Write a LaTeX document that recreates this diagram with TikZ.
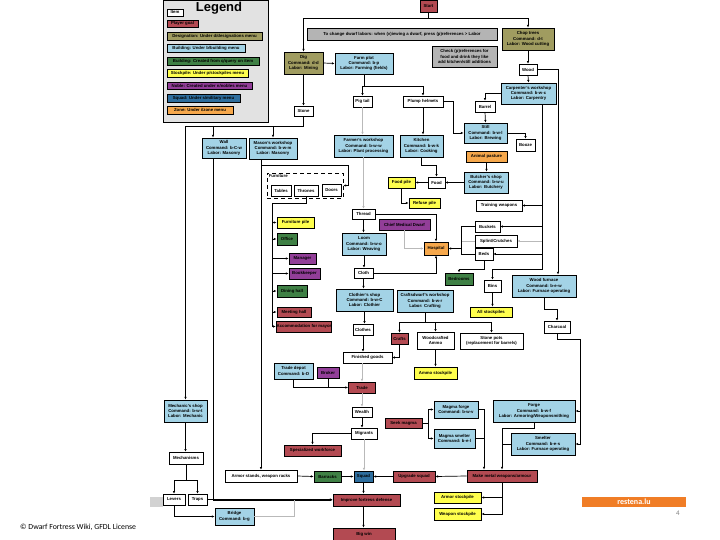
\documentclass[tikz,border=0pt]{standalone}
\usepackage{fontspec}
\setmainfont{Liberation Sans}
\newfontfamily\slidefont{Carlito}
\usetikzlibrary{arrows.meta}
\usetikzlibrary{positioning}

\definecolor{goalred}{HTML}{B34A52}
\definecolor{desigolive}{HTML}{A09C60}
\definecolor{bldgblue}{HTML}{A3D3E6}
\definecolor{roomgreen}{HTML}{3F8045}
\definecolor{pileyellow}{HTML}{FFFF4D}
\definecolor{noblepurple}{HTML}{923E98}
\definecolor{squadblue}{HTML}{2E6E9E}
\definecolor{zoneorange}{HTML}{F6A84C}
\definecolor{notegray}{HTML}{B4B4B4}
\definecolor{legendgray}{HTML}{E2E2E2}
\definecolor{restena}{HTML}{F07D26}

\newcommand{\boxfont}{\fontsize{4.3}{5.3}\selectfont\bfseries}

\tikzset{
  box/.style={draw=black, line width=0.6pt, align=center, inner sep=0.4pt, font=\boxfont},
  item/.style={box, fill=white},
  goal/.style={box, fill=goalred, line width=0.9pt},
  desig/.style={box, fill=desigolive, line width=0.9pt},
  bldg/.style={box, fill=bldgblue, line width=0.9pt},
  room/.style={box, fill=roomgreen, line width=0.9pt},
  pile/.style={box, fill=pileyellow, line width=0.9pt},
  noble/.style={box, fill=noblepurple, line width=0.9pt},
  squad/.style={box, fill=squadblue, line width=0.9pt},
  zone/.style={box, fill=zoneorange, line width=0.9pt},
  note/.style={box, fill=notegray, line width=0.9pt},
  arr/.style={-{Latex[length=2.6pt,width=2.4pt]}, line width=0.7pt},
  link/.style={line width=0.7pt},
  grayline/.style={line width=0.7pt, draw=gray!55},
}

\begin{document}
\begin{tikzpicture}[x=1pt,y=-1pt]
\useasboundingbox (0,0) rectangle (720,540);
\fill[white] (0,0) rectangle (720,540);

% slide frame
\fill[gray!35] (150,497) rectangle (163,507);
\fill[restena] (582,497) rectangle (686,507);
\node[font=\slidefont\bfseries\fontsize{8}{9}\selectfont, text=white] (restenalabel) at (634,502) {restena.lu};
\node[font=\slidefont\fontsize{7}{8}\selectfont, text=gray] (pagenum) at (678,513.5) {4};
\node[font=\slidefont\fontsize{7.8}{9}\selectfont, anchor=west, inner sep=0pt] (copyright) at (20,527) {\textcopyright{} Dwarf Fortress Wiki, GFDL License};

% legend
\draw[fill=legendgray, line width=0.6pt] (163,0) rectangle (268,122);
\node[font=\bfseries\fontsize{13}{14}\selectfont] (legendtitle) at (219,8) {Legend};
\node[item, minimum width=16, minimum height=7] (lgitem) at (175,12.5) {Item};
\node[goal, minimum width=31, minimum height=7] (lggoal) at (182.5,23.5) {Player goal};
\node[desig, minimum width=95, minimum height=8] (lgdesig) at (214.5,36) {Designation: Under d/designations menu};
\node[bldg, minimum width=78, minimum height=8] (lgbldg) at (206,48) {Building: Under b/building menu};
\node[room, minimum width=92, minimum height=8] (lgroom) at (213,61) {Building: Created from q/query on item};
\node[pile, minimum width=81, minimum height=8] (lgpile) at (207.5,73) {Stockpile: Under p/stockpiles menu};
\node[noble, minimum width=85, minimum height=7] (lgnoble) at (209.5,85.5) {Noble: Created under n/nobles menu};
\node[squad, minimum width=73, minimum height=8] (lgsquad) at (203.5,98) {Squad: Under s/military menu};
\node[zone, minimum width=66, minimum height=8] (lgzone) at (200,110) {Zone: Under i/zone menu};

% top row
\node[goal, minimum width=17, minimum height=12] (start) at (428.5,6) {Start};
\node[note, minimum width=190, minimum height=12] (labornote) at (402,34) {To change dwarf labors: when (v)iewing a dwarf, press (p)references > Labor};
\node[note, minimum width=65, minimum height=21] (prefnote) at (464.5,56.5) {Check (p)references for\\food and drink they like\\add kitchen/still additions};
\node[desig, minimum width=39, minimum height=22] (dig) at (303.5,63) {Dig\\Command: d-d\\Labor: Mining};
\node[bldg, minimum width=58, minimum height=21] (farm) at (364,63.5) {Farm plot\\Command: b-p\\Labor: Farming (fields)};
\node[desig, minimum width=52, minimum height=22] (chop) at (528,39) {Chop trees\\Command: d-t\\Labor: Wood cutting};
\node[item, minimum width=18, minimum height=11] (wood) at (528,69.5) {Wood};
\node[bldg, minimum width=55, minimum height=21] (carp) at (528.5,93.5) {Carpenter's workshop\\Command: b-w-c\\Labor: Carpentry};
\node[item, minimum width=20, minimum height=11] (barrel) at (485,106.5) {Barrel};
\node[bldg, minimum width=43, minimum height=20] (still) at (485.5,133) {Still\\Command: b-w-l\\Labor: Brewing};
\node[item, minimum width=19, minimum height=12] (booze) at (525.5,145) {Booze};
\node[item, minimum width=19, minimum height=10] (stone) at (303.5,111) {Stone};
\node[item, minimum width=19, minimum height=11] (pigtail) at (362.5,101.5) {Pig tail};
\node[item, minimum width=40, minimum height=11] (plump) at (423,101.5) {Plump helmets};

% food and cloth
\node[bldg, minimum width=59, minimum height=22] (farmer) at (363.5,146) {Farmer's workshop\\Command: b-w-w\\Labor: Plant processing};
\node[bldg, minimum width=43, minimum height=22] (kitchen) at (421.5,146) {Kitchen\\Command: b-w-k\\Labor: Cooking};
\node[zone, minimum width=41, minimum height=11] (pasture) at (486.5,156.5) {Animal pasture};
\node[bldg, minimum width=44, minimum height=21] (butcher) at (486,182.5) {Butcher's shop\\Command: b-w-u\\Labor: Butchery};
\node[item, minimum width=17, minimum height=11] (food) at (436.5,182.5) {Food};
\node[pile, minimum width=27, minimum height=11] (foodpile) at (401.5,182.5) {Food pile};
\node[pile, minimum width=31, minimum height=10] (refuse) at (424.5,203) {Refuse pile};
\node[item, minimum width=46, minimum height=11] (training) at (499,205.5) {Training weapons};
\node[item, minimum width=25, minimum height=11] (buckets) at (487.5,226.5) {Buckets};
\node[item, minimum width=42, minimum height=12] (splint) at (496,241) {Splint/Crutches};
\node[item, minimum width=18, minimum height=12] (beds) at (484,254) {Beds};
\node[item, minimum width=23, minimum height=10] (thread) at (363.5,214) {Thread};
\node[noble, minimum width=51, minimum height=11] (cmd) at (404.5,224.5) {Chief Medical Dwarf};
\node[zone, minimum width=24, minimum height=13] (hospital) at (436,248.5) {Hospital};
\node[bldg, minimum width=44, minimum height=22] (loom) at (364,244) {Loom\\Command: b-w-o\\Labor: Weaving};
\node[item, minimum width=19, minimum height=10] (cloth) at (363.5,273) {Cloth};
\node[bldg, minimum width=57, minimum height=22] (clothier) at (364.5,300) {Clothier's shop\\Command: b-w-C\\Labor: Clothier};
\node[item, minimum width=20, minimum height=11] (clothes) at (363,329.5) {Clothes};
\node[bldg, minimum width=56, minimum height=22] (craftsws) at (425,301) {Craftsdwarf's workshop\\Command: b-w-r\\Labor: Crafting};
\node[goal, minimum width=17, minimum height=11] (crafts) at (399.5,338.5) {Crafts};
\node[item, minimum width=37, minimum height=17] (ammo) at (435.5,340.5) {Woodcrafted\\Ammo};
\node[item, minimum width=63, minimum height=16] (pots) at (491.5,341) {Stone pots\\(replacement for barrels)};
\node[pile, minimum width=43, minimum height=12] (ammopile) at (435.5,373) {Ammo stockpile};
\node[room, minimum width=28, minimum height=12] (bedrooms) at (459,279) {Bedrooms};
\node[item, minimum width=17, minimum height=12] (bins) at (492.5,286) {Bins};
\node[pile, minimum width=42, minimum height=10] (allpiles) at (491,312) {All stockpiles};
\node[bldg, minimum width=64, minimum height=22] (furnace) at (544,286) {Wood furnace\\Command: b-e-w\\Labor: Furnace operating};
\node[item, minimum width=26, minimum height=12] (charcoal) at (557,327) {Charcoal};

% trade and military
\node[item, minimum width=49, minimum height=11] (finished) at (367.5,357.5) {Finished goods};
\node[goal, minimum width=27, minimum height=11] (trade) at (362,387.5) {Trade};
\node[bldg, minimum width=39, minimum height=16] (depot) at (293.5,371) {Trade depot\\Command: b-D};
\node[noble, minimum width=22, minimum height=11] (broker) at (328,372.5) {Broker};
\node[item, minimum width=20, minimum height=10] (wealth) at (362,412) {Wealth};
\node[item, minimum width=26, minimum height=11] (migrants) at (364,433.5) {Migrants};
\node[goal, minimum width=57, minimum height=11] (workforce) at (312.5,450.5) {Specialized workforce};
\node[squad, minimum width=19, minimum height=11] (squad) at (363.5,476.5) {Squad};
\node[room, minimum width=27, minimum height=11] (barracks) at (327.5,476.5) {Barracks};
\node[item, minimum width=72, minimum height=12] (racks) at (261,476) {Armor stands, weapon racks};
\node[goal, minimum width=42, minimum height=11] (upgrade) at (414,476.5) {Upgrade squad};
\node[goal, minimum width=70, minimum height=12] (makemetal) at (502,476) {Make metal weapons/armour};
\node[goal, minimum width=67, minimum height=12] (defense) at (366.5,500) {Improve fortress defense};
\node[goal, minimum width=62, minimum height=12] (bigwin) at (364,534) {Big win};
\node[goal, minimum width=37, minimum height=10] (magma) at (403.5,423) {Seek magma};
\node[bldg, minimum width=44, minimum height=17] (mforge) at (456,409.5) {Magma forge\\Command: b-w-v};
\node[bldg, minimum width=41, minimum height=19] (msmelt) at (454.5,438.5) {Magma smelter\\Command: b-e-l};
\node[bldg, minimum width=82, minimum height=22] (forge) at (534,411) {Forge\\Command: b-w-f\\Labor: Armoring/Weaponsmithing};
\node[bldg, minimum width=64, minimum height=22] (smelter) at (543,444) {Smelter\\Command: b-e-s\\Labor: Furnace operating};
\node[pile, minimum width=47, minimum height=11] (armorpile) at (457.5,497.5) {Armor stockpile};
\node[pile, minimum width=47, minimum height=12] (weaponpile) at (457.5,514) {Weapon stockpile};

% stone side
\node[bldg, minimum width=44, minimum height=20] (wall) at (224,148) {Wall\\Command: b-C-w\\Labor: Masonry};
\node[bldg, minimum width=48, minimum height=21] (mason) at (273,148.5) {Mason's workshop\\Command: b-w-m\\Labor: Masonry};
\node[draw, dashed, dash pattern=on 4pt off 3pt, line width=0.8pt, minimum width=76, minimum height=25, inner sep=0pt] (furn) at (305,185.5) {};
\node[font=\boxfont, anchor=north west, inner sep=0pt] (furnlabel) at ([xshift=2pt,yshift=-2pt]furn.north west) {Furniture};
\node[item, minimum width=20, minimum height=11] (tables) at (281,190.5) {Tables};
\node[item, minimum width=24, minimum height=11] (thrones) at (306,190.5) {Thrones};
\node[item, minimum width=19, minimum height=12] (doors) at (331.5,190) {Doors};
\node[pile, minimum width=37, minimum height=11] (furnpile) at (295.5,222.5) {Furniture pile};
\node[room, minimum width=20, minimum height=12] (office) at (287,239) {Office};
\node[noble, minimum width=27, minimum height=11] (manager) at (302.5,258.5) {Manager};
\node[noble, minimum width=31, minimum height=11] (bookkeeper) at (304.5,273.5) {Bookkeeper};
\node[room, minimum width=30, minimum height=12] (dining) at (292,291) {Dining hall};
\node[goal, minimum width=34, minimum height=10] (meeting) at (294,312) {Meeting hall};
\node[goal, minimum width=54, minimum height=11] (mayor) at (304,326.5) {Accommodation for mayor};
\node[bldg, minimum width=43, minimum height=22] (mechshop) at (185.5,411) {Mechanic's shop\\Command: b-w-t\\Labor: Mechanic};
\node[item, minimum width=34, minimum height=12] (mechanisms) at (186,458) {Mechanisms};
\node[item, minimum width=22, minimum height=11] (levers) at (174,499.5) {Levers};
\node[item, minimum width=19, minimum height=11] (traps) at (197.5,499.5) {Traps};
\node[bldg, minimum width=39, minimum height=17] (bridge) at (234.5,516.5) {Bridge\\Command: b-g};

% connectors: top
\draw[arr] (start.south) -- ++(0,6) -| (dig.north);
\draw[arr] (start.south) -- ++(0,6) -| (chop.north);
\draw[arr] (dig.east) -- (farm.west);
\draw[arr] (dig.south) -- (stone.north);
\draw[arr] (chop.south) -- (wood.north);
\draw[arr] (wood.south) -- (carp.north);
\draw[arr] (wood.east) -| ([xshift=14pt]furnace.north);
\draw[arr] (carp.west) -| (barrel.north);
\draw[arr] (barrel.south) -- (still.north);
\draw[arr] (still.east) -| (booze.north);
\draw[link] (farm.south) -- ++(0,12) coordinate (farmsplit);
\draw[arr] (farmsplit) -| (pigtail.north);
\draw[arr] (farmsplit) -| (plump.north);
\draw[grayline,arr] (pigtail.south) -- (pigtail.south |- farmer.north);
\draw[arr] (plump.south) -- (plump.south |- kitchen.north);
\draw[arr] (plump.east) -- ++(10,0) |- (still.west);

% connectors: food and cloth
\draw[arr] (kitchen.south) -- ++(0,8) -| (food.north);
\draw[arr] (pasture.south) -- (pasture.south |- butcher.north);
\draw[arr] (butcher.west) -- (food.east);
\draw[arr] (food.west) -- (foodpile.east);
\draw[arr] (foodpile.south) |- (refuse.west);
\draw[grayline,arr] (farmer.south) -- (farmer.south |- thread.north);
\draw[arr] (thread.east) -| (hospital.north);
\draw[arr] (thread.south) -- (thread.south |- loom.north);
\draw[grayline,arr] (cmd.south) |- (hospital.west);
\draw[arr] (loom.south) -- (loom.south |- cloth.north);
\draw[arr] (cloth.east) -| (hospital.south);
\draw[arr] (cloth.south) -- (cloth.south |- clothier.north);
\draw[arr] (clothier.south) -- (clothier.south |- clothes.north);
\draw[arr] (clothes.south) -- (clothes.south |- finished.north);
\draw[link] (craftsws.south) -- ++(0,10) coordinate (craftsplit);
\draw[arr] (craftsplit) -| (crafts.north);
\draw[arr] (craftsplit) -| (ammo.north);
\draw[arr] (craftsplit) -| (pots.north);
\draw[arr] (crafts.south) |- (finished.east);
\draw[arr] (ammo.south) -- (ammopile.north);
\coordinate (carpdown) at ([xshift=13.5pt]carp.south);
\draw[arr] (carpdown) -- ++(0,165) -| (bins.north);
\draw[arr] (carpdown |- training.east) -- (training.east);
\draw[arr] (carpdown |- buckets.east) -- (buckets.east);
\draw[grayline,arr] (carpdown |- splint.east) -- (splint.east);
\draw[arr] (carpdown |- beds.east) -- (beds.east);
\coordinate (hospdown) at ([xshift=-13pt]buckets.west);
\draw[link] (buckets.west) -- (hospdown) -- (hospdown |- beds.west) -- (beds.west);
\draw[grayline] (splint.west) -- (hospdown |- splint.west);
\draw[arr] (hospdown |- hospital.east) -- (hospital.east);
\draw[arr] (beds.south) -- ++(0,9) -| (bedrooms.north);
\draw[arr] (bins.south) -- (bins.south |- allpiles.north);
\draw[arr] (furnace.south) -- ++(0,12) -| (charcoal.north);
\draw[arr] (charcoal.south) -- ++(0,6) -| ([xshift=5pt]forge.east) -- (forge.east);
\draw[arr] ([xshift=5pt]forge.east) |- (smelter.east);

% connectors: trade and military
\draw[grayline,arr] (finished.south -| trade.north) -- (trade.north);
\draw[arr] (depot.south) |- (trade.west);
\draw[link] (broker.south) -- (broker.south |- trade.west);
\draw[grayline,arr] (trade.south) -- (trade.south |- wealth.north);
\draw[arr] (wealth.south) -- (wealth.south |- migrants.north);
\draw[arr] (migrants.west) -| (workforce.north);
\draw[grayline,arr] (migrants.south) -- (migrants.south |- squad.north);
\draw[arr] (barracks.east) -- (squad.west);
\draw[arr] (racks.east) -- (barracks.west);
\draw[arr] (upgrade.west) -- (squad.east);
\draw[arr] (makemetal.west) -- (upgrade.east);
\draw[arr] (squad.south) -- (squad.south |- defense.north);
\draw[arr] (squad.south |- defense.south) -- (squad.south |- bigwin.north);
\draw[link] (magma.east) -- ++(6,0) coordinate (magmasplit);
\draw[arr] (magmasplit) |- (mforge.west);
\draw[arr] (magmasplit) |- (msmelt.west);
\draw[arr] (mforge.east) -| ([xshift=-18pt]makemetal.north);
\draw[link] (msmelt.east) -- ([xshift=-18pt]makemetal.north |- msmelt.east);
\draw[arr] (forge.south) -- ++(0,6) -| (makemetal.north);
\draw[link] (smelter.west) -- (smelter.west -| makemetal.north);
\draw[arr] (makemetal.south) |- (armorpile.east);
\draw[arr] (makemetal.south) |- (weaponpile.east);

% connectors: stone side
\draw[arr] (stone.south) -- ++(0,10) -| (mechshop.north);
\draw[arr] (stone.south) -- ++(0,10) -| ([xshift=-11pt]wall.north);
\draw[arr] (stone.south) -- ++(0,10) -| (mason.north);
\draw[arr] ([xshift=-11pt]wall.south) |- (defense.west);
\draw[arr] (racks.north |- mason.south) -- (racks.north);
\draw[arr] (racks.north |- mason.south) -- ++(0,6) -| ([xshift=5pt]furn.east) -- (furn.east);
\coordinate (furndown) at (272,203);
\draw[link] (thrones.south) |- (furndown) -- (furndown |- mayor.west);
\draw[arr] (furndown |- furnpile.west) -- (furnpile.west);
\draw[arr] (furndown |- office.west) -- (office.west);
\draw[arr] (furndown |- manager.west) -- (manager.west);
\draw[arr] (furndown |- bookkeeper.west) -- (bookkeeper.west);
\draw[arr] (furndown |- dining.west) -- (dining.west);
\draw[arr] (furndown |- meeting.west) -- (meeting.west);
\draw[arr] (furndown |- mayor.west) -- (mayor.west);
\draw[arr] (mechshop.south) -- (mechshop.south |- mechanisms.north);
\draw[link] (mechanisms.south) -- ++(0,16) coordinate (mechsplit);
\draw[arr] (mechsplit) -| (levers.north);
\draw[arr] (mechsplit) -| (traps.north);
\draw[arr] (levers.south) |- (bridge.west);
\draw[grayline] (bridge.east) -- ++(40,0) -- ++(0,-16.5);
\draw[arr] (traps.east) -- (traps.east -| defense.west);

\end{tikzpicture}
\end{document}
